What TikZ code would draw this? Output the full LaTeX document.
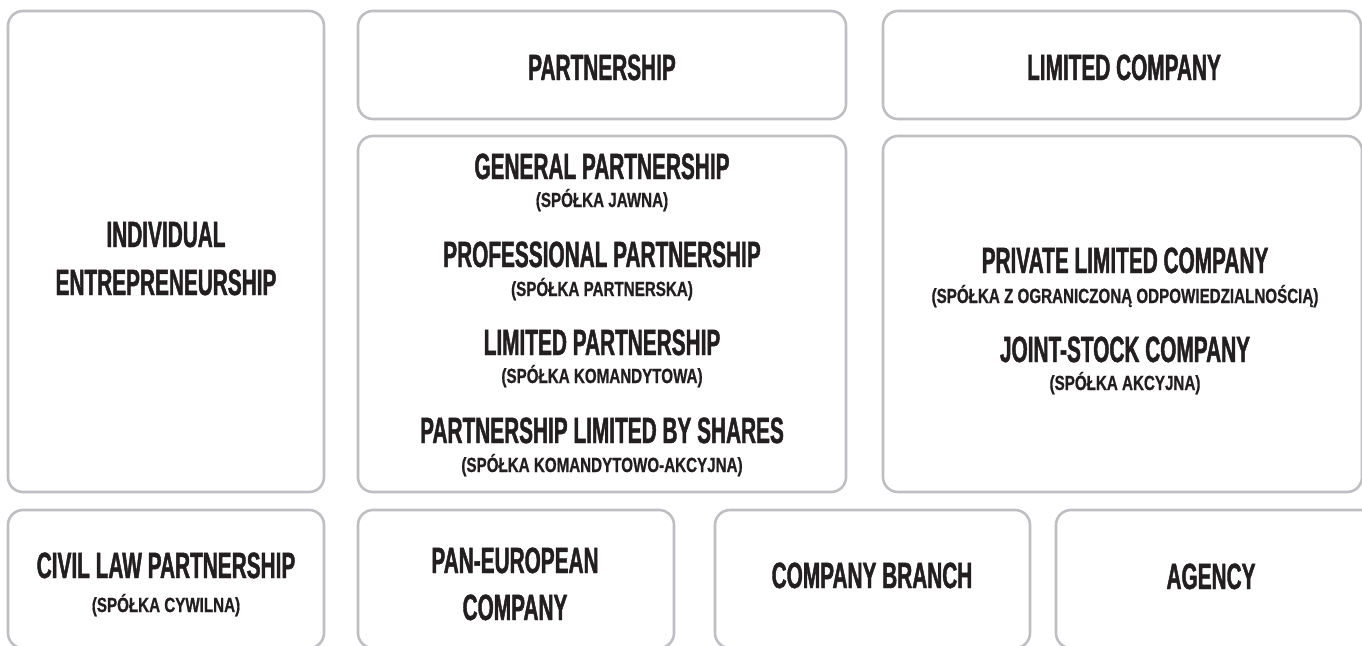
\documentclass[tikz,border=0pt]{standalone}
\usepackage{fontspec}
\setmainfont{Liberation Sans}
\newfontfamily\headfont{Liberation Sans}[FakeStretch=0.57,FakeBold=1.2]
\newfontfamily\notefont{Liberation Sans}[FakeStretch=0.74,FakeBold=0.8]

\definecolor{framegray}{RGB}{190,191,194}
\definecolor{inkdark}{RGB}{35,31,32}

\tikzset{
  formbox/.style={draw=framegray, line width=2.6pt, rounded corners=15pt},
  title/.style={font=\headfont\bfseries\fontsize{36.5}{36.5}\selectfont, text=inkdark, anchor=base, inner sep=0pt},
  note/.style={font=\notefont\bfseries\fontsize{20.5}{20.5}\selectfont, text=inkdark, anchor=base, inner sep=0pt}
}

\begin{document}
\begin{tikzpicture}[x=1pt,y=-1pt]

\useasboundingbox (0,0) rectangle (1362,645);
\clip (0,0) rectangle (1362,645);

% boxes
\draw[formbox] (8,11) rectangle (324,492);
\draw[formbox] (358,11) rectangle (846,119);
\draw[formbox] (883,11) rectangle (1361,119);
\draw[formbox] (358,136) rectangle (846,492);
\draw[formbox] (883,136) rectangle (1362,492);
\draw[formbox] (8,510) rectangle (324,648);
\draw[formbox] (358,510) rectangle (674,648);
\draw[formbox] (715,510) rectangle (1030,648);
\draw[formbox] (1056,510) rectangle (1390,648);

% left column
\node[title] (indiv) at (166,247) {INDIVIDUAL};
\node[title] (entre) at (166,295) {ENTREPRENEURSHIP};

% headers
\node[title] (partner) at (602,80) {PARTNERSHIP};
\node[title] (limited) at (1124,80) {LIMITED COMPANY};

% partnerships
\node[title] (general) at (602,179) {GENERAL PARTNERSHIP};
\node[note] (generalpl) at (602,207) {(SPÓŁKA JAWNA)};
\node[title] (profes) at (602,267) {PROFESSIONAL PARTNERSHIP};
\node[note] (profespl) at (602,296) {(SPÓŁKA PARTNERSKA)};
\node[title] (limpart) at (602,355) {LIMITED PARTNERSHIP};
\node[note] (limpartpl) at (602,383) {(SPÓŁKA KOMANDYTOWA)};
\node[title] (shares) at (602,443) {PARTNERSHIP LIMITED BY SHARES};
\node[note] (sharespl) at (602,472) {(SPÓŁKA KOMANDYTOWO-AKCYJNA)};

% companies
\node[title] (private) at (1125,273) {PRIVATE LIMITED COMPANY};
\node[note] (privatepl) at (1125,303) {(SPÓŁKA Z OGRANICZONĄ ODPOWIEDZIALNOŚCIĄ)};
\node[title] (joint) at (1125,362) {JOINT-STOCK COMPANY};
\node[note] (jointpl) at (1125,390) {(SPÓŁKA AKCYJNA)};

% bottom row
\node[title] (civil) at (166,578) {CIVIL LAW PARTNERSHIP};
\node[note] (civilpl) at (166,612) {(SPÓŁKA CYWILNA)};
\node[title] (paneu) at (515,573) {PAN-EUROPEAN};
\node[title] (paneuco) at (515,620) {COMPANY};
\node[title] (branch) at (872,588) {COMPANY BRANCH};
\node[title] (agency) at (1211,589) {AGENCY};

\end{tikzpicture}
\end{document}
